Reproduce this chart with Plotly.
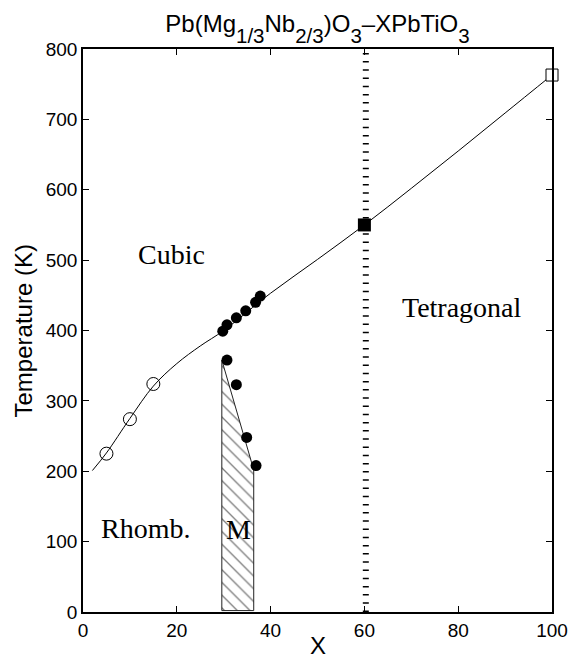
import plotly.graph_objects as go

# ---- data ----
curve_x = [2, 5, 10, 15, 20, 25, 30, 40, 50, 60, 70, 80, 90, 100]
curve_y = [201, 226, 275, 321, 353, 378, 400, 453, 501, 550, 602, 655, 709, 763]

open_circ_x = [5, 10, 15]
open_circ_y = [225, 274, 324]

upper_dot_x = [29.8, 30.7, 32.7, 34.7, 36.8, 37.8]
upper_dot_y = [399, 408, 418, 428, 440, 449]

lower_dot_x = [30.7, 32.7, 34.9, 36.9]
lower_dot_y = [358, 323, 248, 208]

mono_x = [29.6, 29.6, 36.4, 36.4, 29.6]
mono_y = [2, 358, 202, 2, 2]

mpb_x = [60.3, 60.3]
mpb_y = [0, 800]

tc_mpb_x = [60]
tc_mpb_y = [550]

tc_pt_x = [100]
tc_pt_y = [763]

x_ticks = [0, 20, 40, 60, 80, 100]
y_ticks = [0, 100, 200, 300, 400, 500, 600, 700, 800]

phase_labels = ["Cubic", "Tetragonal", "Rhomb.", "M"]
phase_x = [18.8, 80.9, 13.3, 33.2]
phase_y = [508, 432, 118, 117]

SANS = "Liberation Sans, Arial, sans-serif"
SERIF = "Liberation Serif, Times New Roman, serif"

fig = go.Figure()

# monoclinic hatched region
fig.add_trace(go.Scatter(
    x=mono_x, y=mono_y, mode="lines", fill="toself",
    fillcolor="white",
    fillpattern=dict(shape="\\", size=9, solidity=0.15, fgcolor="black", bgcolor="white"),
    line=dict(color="#222222", width=1), hoverinfo="skip", showlegend=False))

# Tc curve
fig.add_trace(go.Scatter(
    x=curve_x, y=curve_y, mode="lines", line=dict(color="black", width=1, shape="spline", smoothing=1.0),
    showlegend=False, hoverinfo="skip"))

# MPB dotted line
fig.add_trace(go.Scatter(
    x=mpb_x, y=mpb_y, mode="lines", line=dict(color="black", width=6, dash="1.5px,6.7px"),
    showlegend=False, hoverinfo="skip"))

fig.add_trace(go.Scatter(
    x=open_circ_x, y=open_circ_y, mode="markers",
    marker=dict(symbol="circle-open", size=13, color="black", line=dict(width=1, color="black")),
    showlegend=False))

fig.add_trace(go.Scatter(
    x=upper_dot_x, y=upper_dot_y, mode="markers",
    marker=dict(symbol="circle", size=11, color="black", line=dict(width=0)),
    showlegend=False))

fig.add_trace(go.Scatter(
    x=lower_dot_x, y=lower_dot_y, mode="markers",
    marker=dict(symbol="circle", size=11, color="black", line=dict(width=0)),
    showlegend=False))

fig.add_trace(go.Scatter(
    x=tc_mpb_x, y=tc_mpb_y, mode="markers",
    marker=dict(symbol="square", size=13, color="black", line=dict(width=0)),
    showlegend=False))

fig.add_trace(go.Scatter(
    x=tc_pt_x, y=tc_pt_y, mode="markers", cliponaxis=False,
    marker=dict(symbol="square", size=12, color="white", line=dict(width=1, color="black")),
    showlegend=False))

for t, xx, yy in zip(phase_labels, phase_x, phase_y):
    fig.add_annotation(x=xx, y=yy, text=t, showarrow=False,
                       font=dict(family=SERIF, size=28, color="black"),
                       xanchor="center", yanchor="middle")

# axis titles
fig.add_annotation(xref="paper", yref="paper", x=0.5, y=-49 / 563, text="X", showarrow=False,
                   font=dict(family=SANS, size=24, color="black"), xanchor="center", yanchor="bottom")
fig.add_annotation(xref="paper", yref="paper", x=-0.1258, y=0.5, text="Temperature (K)", showarrow=False,
                   textangle=-90, font=dict(family=SANS, size=24, color="black"),
                   xanchor="center", yanchor="middle")

main = "<span style='font-size:24px'>{}</span>"
sub = "<sub><span style='font-size:20.5px'>{}</span></sub>"
title_text = (main.format("Pb(Mg") + sub.format("1/3") + main.format("Nb") + sub.format("2/3")
              + main.format(")O") + sub.format("3") + main.format("–XPbTiO") + sub.format("3"))

fig.update_layout(
    width=572, height=661,
    margin=dict(l=83, r=20, t=49, b=49, autoexpand=False),
    paper_bgcolor="white", plot_bgcolor="white",
    title=dict(text=title_text, x=0.5, xref="paper", y=1 - 32 / 661, yref="container",
               xanchor="center", yanchor="bottom",
               font=dict(family=SANS, size=52, color="black")),
    xaxis=dict(range=[0, 100], tickvals=x_ticks, ticks="inside", ticklen=6, tickwidth=1,
               tickcolor="black", mirror="ticks", showline=True, linecolor="black", linewidth=1.5,
               automargin=False, ticklabeloverflow="allow",
               showgrid=False, zeroline=False, tickfont=dict(family=SANS, size=19, color="black")),
    yaxis=dict(range=[0, 800], tickvals=y_ticks, ticks="inside", ticklen=6, tickwidth=1,
               tickcolor="black", mirror="ticks", showline=True, linecolor="black", linewidth=1.5,
               automargin=False, ticklabeloverflow="allow",
               showgrid=False, zeroline=False, tickfont=dict(family=SANS, size=19, color="black")),
    showlegend=False,
)

fig.write_html("out.html", config={"displayModeBar": False},
               post_script="document.documentElement.style.margin='0';document.body.style.margin='0';"
                           "document.body.style.overflow='hidden';")
